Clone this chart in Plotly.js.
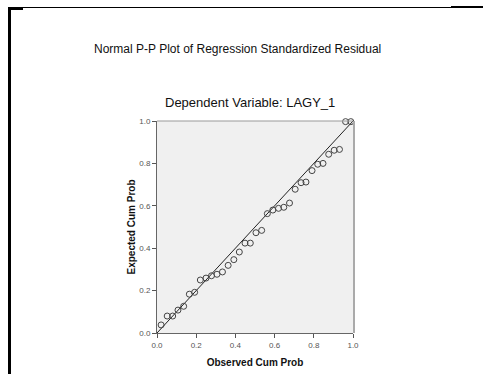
<!DOCTYPE html>
<html>
<head>
<meta charset="utf-8">
<script src="https://cdn.plot.ly/plotly-3.0.1.min.js"></script>
<style>
html,body{margin:0;padding:0;background:#fff;}
#wrap{position:relative;width:483px;height:374px;overflow:hidden;}
#chart{position:absolute;left:0;top:0;width:483px;height:374px;}
.b{position:absolute;background:#000;}
</style>
</head>
<body>
<div id="wrap">
<div id="chart"></div>
<div class="b" style="left:8px;top:7px;width:3px;height:367px;"></div>
<div class="b" style="left:8px;top:7px;width:15px;height:3px;"></div>
<div class="b" style="left:23px;top:7px;width:428px;height:1px;"></div>
<div class="b" style="left:451px;top:6px;width:32px;height:2px;"></div>
</div>
<script>
var chartTitle = "Normal P-P Plot of Regression Standardized Residual";
var subTitle = "Dependent Variable: LAGY_1";
var xTitle = "Observed Cum Prob";
var yTitle = "Expected Cum Prob";
var tickVals = [0, 0.2, 0.4, 0.6, 0.8, 1.0];
var tickText = ["0.0", "0.2", "0.4", "0.6", "0.8", "1.0"];

var observed = [0.021, 0.052, 0.080, 0.107, 0.136, 0.165, 0.192, 0.221, 0.250, 0.278,
                0.306, 0.334, 0.363, 0.392, 0.420, 0.449, 0.476, 0.505, 0.534, 0.563,
                0.591, 0.620, 0.647, 0.676, 0.705, 0.735, 0.760, 0.791, 0.820, 0.847,
                0.876, 0.904, 0.931, 0.962, 0.989];
var expected = [0.038, 0.080, 0.080, 0.108, 0.126, 0.183, 0.192, 0.250, 0.259, 0.270,
                0.277, 0.288, 0.319, 0.346, 0.382, 0.424, 0.424, 0.473, 0.484, 0.563,
                0.580, 0.588, 0.593, 0.613, 0.678, 0.709, 0.712, 0.766, 0.796, 0.800,
                0.843, 0.862, 0.866, 0.997, 0.997];
var lineX = [0, 1];
var lineY = [0, 1];

var traces = [
  {x: lineX, y: lineY, mode: 'lines', type: 'scatter', line: {color: '#222', width: 1}, hoverinfo: 'skip'},
  {x: observed, y: expected, mode: 'markers', type: 'scatter', cliponaxis: false,
   marker: {symbol: 'circle-open', size: 6, color: '#444', line: {width: 1, color: '#444'}}}
];

var layout = {
  width: 483, height: 374,
  margin: {l: 156.5, r: 129.5, t: 121, b: 41, pad: 0},
  paper_bgcolor: '#fff', plot_bgcolor: '#f0f0f0',
  showlegend: false,
  font: {family: 'Liberation Sans, Arial, sans-serif', color: '#000'},
  xaxis: {range: [0, 1], tickvals: tickVals, ticktext: tickText, ticks: 'outside', ticklen: 4,
          tickcolor: '#555', tickfont: {size: 8, color: '#555'}, showgrid: false, zeroline: false,
          showline: true, linecolor: '#666', linewidth: 1, mirror: false, fixedrange: true,
          title: {text: '<b>' + xTitle + '</b>', font: {size: 10, color: '#111'}, standoff: 10}},
  yaxis: {range: [0, 1], tickvals: tickVals, ticktext: tickText, ticks: 'outside', ticklen: 4,
          tickcolor: '#555', tickfont: {size: 8, color: '#555'}, showgrid: false, zeroline: false,
          showline: true, linecolor: '#666', linewidth: 1, fixedrange: true,
          title: {text: '<b>' + yTitle + '</b>', font: {size: 10, color: '#111'}, standoff: 1}},
  shapes: [
    {type: 'line', xref: 'paper', yref: 'paper', x0: 0, x1: 1, y0: 1, y1: 1, line: {color: '#999', width: 1}},
    {type: 'line', xref: 'paper', yref: 'paper', x0: 1.005, x1: 1.005, y0: 0, y1: 1, line: {color: '#aaa', width: 2}}
  ],
  annotations: [
    {text: chartTitle, xref: 'paper', yref: 'paper', x: 0.409, y: (333 - 49) / 212, showarrow: false,
     xanchor: 'center', yanchor: 'middle', font: {size: 12, color: '#111'}},
    {text: subTitle, xref: 'paper', yref: 'paper', x: 0.472, y: (333 - 102) / 212, showarrow: false,
     xanchor: 'center', yanchor: 'middle', font: {size: 13, color: '#111'}}
  ]
};

Plotly.newPlot('chart', traces, layout, {staticPlot: true, displayModeBar: false});
</script>
</body>
</html>
